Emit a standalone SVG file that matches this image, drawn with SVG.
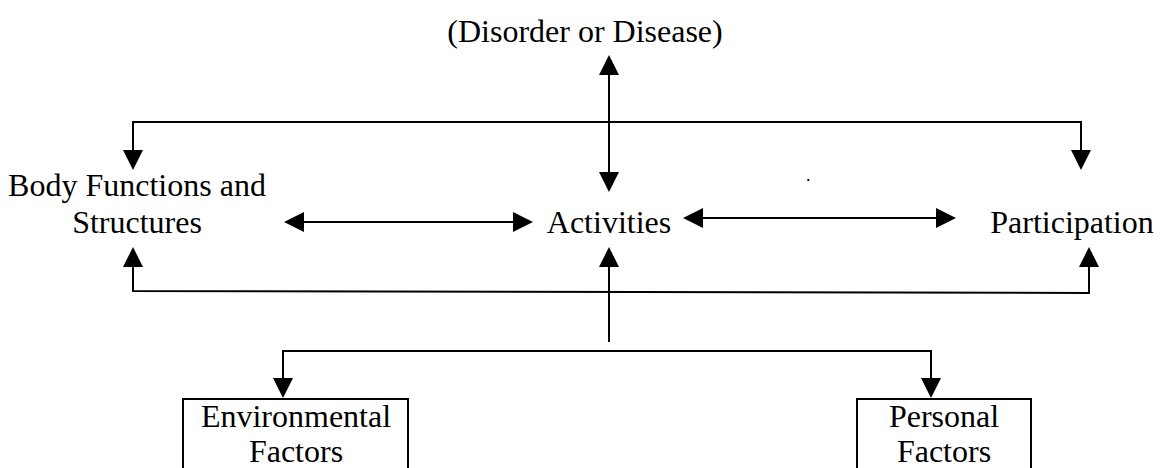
<svg xmlns="http://www.w3.org/2000/svg" width="1162" height="468" viewBox="0 0 1162 468">
  <style>
    .t { font-family: "Liberation Serif", "Times New Roman", serif; font-size: 32px; fill: #000; text-anchor: middle; }
    .c { fill: none; stroke: #000; stroke-width: 2; }
    .box { fill: #fff; stroke: #000; stroke-width: 2; }
  </style>
  <defs>
    <marker id="ah" viewBox="0 0 20 20" refX="18" refY="10" markerWidth="20" markerHeight="20" markerUnits="userSpaceOnUse" orient="auto-start-reverse">
      <path d="M0,0 L20,10 L0,20 z" fill="#000"/>
    </marker>
  </defs>
  <rect width="1162" height="468" fill="#fff"/>

  <g id="connectors">
    <path class="c" d="M609,57 L609,190" marker-start="url(#ah)" marker-end="url(#ah)"/>
    <path class="c" d="M133,168 L133,122 L1081,122 L1081,168" marker-start="url(#ah)" marker-end="url(#ah)"/>
    <path class="c" d="M286,222 L531,222" marker-start="url(#ah)" marker-end="url(#ah)"/>
    <path class="c" d="M685,218 L954,218" marker-start="url(#ah)" marker-end="url(#ah)"/>
    <path class="c" d="M133,249 L133,291 L1089,293 L1089,249" marker-start="url(#ah)" marker-end="url(#ah)"/>
    <path class="c" d="M609,342 L609,249" marker-end="url(#ah)"/>
    <path class="c" d="M283,396 L283,351 L931,351 L931,396" marker-start="url(#ah)" marker-end="url(#ah)"/>
  </g>

  <g id="disorder">
    <text class="t" x="585" y="42">(Disorder or Disease)</text>
  </g>
  <g id="body">
    <text class="t" x="137" y="196">Body Functions and</text>
    <text class="t" x="137" y="233">Structures</text>
  </g>
  <g id="activities">
    <text class="t" x="609" y="233">Activities</text>
  </g>
  <g id="participation">
    <text class="t" x="1072" y="233">Participation</text>
  </g>
  <g id="environmental">
    <rect class="box" x="183" y="399" width="225" height="82"/>
    <text class="t" x="296" y="427">Environmental</text>
    <text class="t" x="296" y="462">Factors</text>
  </g>
  <g id="personal">
    <rect class="box" x="857" y="399" width="174" height="82"/>
    <text class="t" x="944" y="427">Personal</text>
    <text class="t" x="944" y="462">Factors</text>
  </g>
  <text x="806" y="181" style="font-family: 'Liberation Serif', serif; font-size: 18px;">.</text>
</svg>
